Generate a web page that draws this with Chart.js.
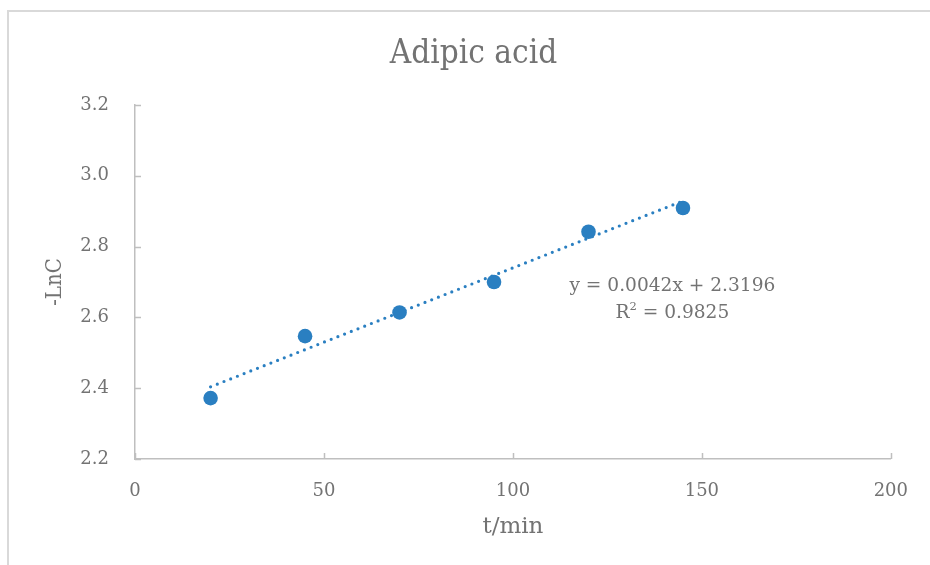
<!DOCTYPE html>
<html>
<head>
<meta charset="utf-8">
<script src="https://cdn.jsdelivr.net/npm/chart.js@4.4.1/dist/chart.umd.min.js"></script>
<style>
  html, body { margin: 0; padding: 0; background: #ffffff; }
  #frame { position: absolute; left: 7px; top: 10px; width: 960px; height: 600px;
           border-left: 2px solid #d9d9d9; border-top: 2px solid #d9d9d9; }
  #wrap { position: absolute; left: 0; top: 0; width: 930px; height: 565px; }
</style>
</head>
<body>
<div id="frame"></div>
<div id="wrap"><canvas id="c" width="930" height="565"></canvas></div>
<script>
// ---- data ----
const timeMin   = [20, 45, 70, 95, 120, 145];
const negLnC    = [2.372, 2.547, 2.614, 2.700, 2.842, 2.909];
const trendX    = [20, 145];
const trendY    = [2.404, 2.929];
const equationText = 'y = 0.0042x + 2.3196';
const r2Value   = '0.9825';
const chartTitle = 'Adipic acid';
const xTitle = 't/min';
const yTitle = '-LnC';

const FONT = "'DejaVu Serif', 'Liberation Serif', serif";
const FONT_C = "'DejaVu Serif Condensed', 'DejaVu Serif', serif";
const TEXT = '#737373';
const AXIS = '#bfbfbf';
const BLUE = '#2a7fc1';

const pointsData = timeMin.map((t, i) => ({x: t, y: negLnC[i]}));
const trendData = trendX.map((t, i) => ({x: t, y: trendY[i]}));

const extras = {
  id: 'extras',
  afterDraw(chart) {
    const ctx = chart.ctx;
    const xs = chart.scales.x, ys = chart.scales.y;
    const area = chart.chartArea;
    ctx.save();
    // inward tick marks
    ctx.strokeStyle = AXIS;
    ctx.lineWidth = 1.5;
    ctx.beginPath();
    xs.ticks.forEach(t => {
      const px = Math.round(xs.getPixelForValue(t.value)) + 0.5;
      ctx.moveTo(px, area.bottom);
      ctx.lineTo(px, area.bottom - 6);
    });
    ys.ticks.forEach(t => {
      const py = Math.round(ys.getPixelForValue(t.value)) + 0.5;
      ctx.moveTo(area.left, py);
      ctx.lineTo(area.left + 6, py);
    });
    ctx.stroke();
    // title
    ctx.fillStyle = TEXT;
    ctx.textAlign = 'center';
    ctx.textBaseline = 'middle';
    ctx.font = "33px " + FONT_C;
    ctx.fillText(chartTitle, 473.5, 54);
    // trendline equation, anchored in data space
    const ex = xs.getPixelForValue(142.2);
    const ey = ys.getPixelForValue(2.689);
    const F = "18.6px " + FONT, FS = "11.5px " + FONT;
    ctx.font = F;
    ctx.fillText(equationText, ex, ey);
    // R² line
    const rest = ' = ' + r2Value;
    const wR = ctx.measureText('R').width;
    const wRest = ctx.measureText(rest).width;
    ctx.font = FS;
    const w2 = ctx.measureText('2').width;
    const total = wR + w2 + wRest;
    const sx = ex - total / 2;
    const ry = ey + 27;
    ctx.textAlign = 'left';
    ctx.font = F;
    ctx.fillText('R', sx, ry);
    ctx.font = FS;
    ctx.fillText('2', sx + wR, ry - 6);
    ctx.font = F;
    ctx.fillText(rest, sx + wR + w2, ry);
    ctx.restore();
  }
};

new Chart(document.getElementById('c'), {
  type: 'scatter',
  data: {
    datasets: [
      {
        label: 'Linear trend',
        data: trendData,
        showLine: true,
        pointRadius: 0,
        borderColor: BLUE,
        borderWidth: 3.2,
        borderDash: [0, 7.2],
        borderCapStyle: 'round',
        fill: false
      },
      {
        label: '-LnC',
        data: pointsData,
        pointRadius: 7.3,
        pointBackgroundColor: BLUE,
        pointBorderColor: BLUE,
        pointBorderWidth: 0,
        showLine: false
      }
    ]
  },
  options: {
    responsive: false,
    animation: false,
    events: [],
    layout: { padding: { top: 105, left: 0, right: 33, bottom: 0 } },
    plugins: {
      legend: { display: false },
      tooltip: { enabled: false },
      title: { display: false }
    },
    scales: {
      x: {
        type: 'linear',
        min: 0, max: 200,
        grid: { display: false, drawTicks: false },
        border: { display: true, color: AXIS, width: 1.5 },
        ticks: { stepSize: 50, padding: 22, color: TEXT, font: { family: FONT, size: 18 } },
        title: { display: true, text: xTitle, color: TEXT,
                 font: { family: FONT, size: 23 }, padding: { top: 0, bottom: 24 } },
        afterFit(s) { s.height = 106; }
      },
      y: {
        type: 'linear',
        min: 2.2, max: 3.2,
        grid: { display: false, drawTicks: false },
        border: { display: true, color: AXIS, width: 1.5 },
        ticks: { stepSize: 0.2, padding: 26, color: TEXT, font: { family: FONT, size: 18 },
                 callback: v => Number(v).toFixed(1) },
        title: { display: true, text: yTitle, color: TEXT,
                 font: { family: FONT_C, size: 22 }, padding: { top: 42, bottom: 0 } },
        afterFit(s) { s.width = 135; }
      }
    }
  },
  plugins: [extras]
});
</script>
</body>
</html>
